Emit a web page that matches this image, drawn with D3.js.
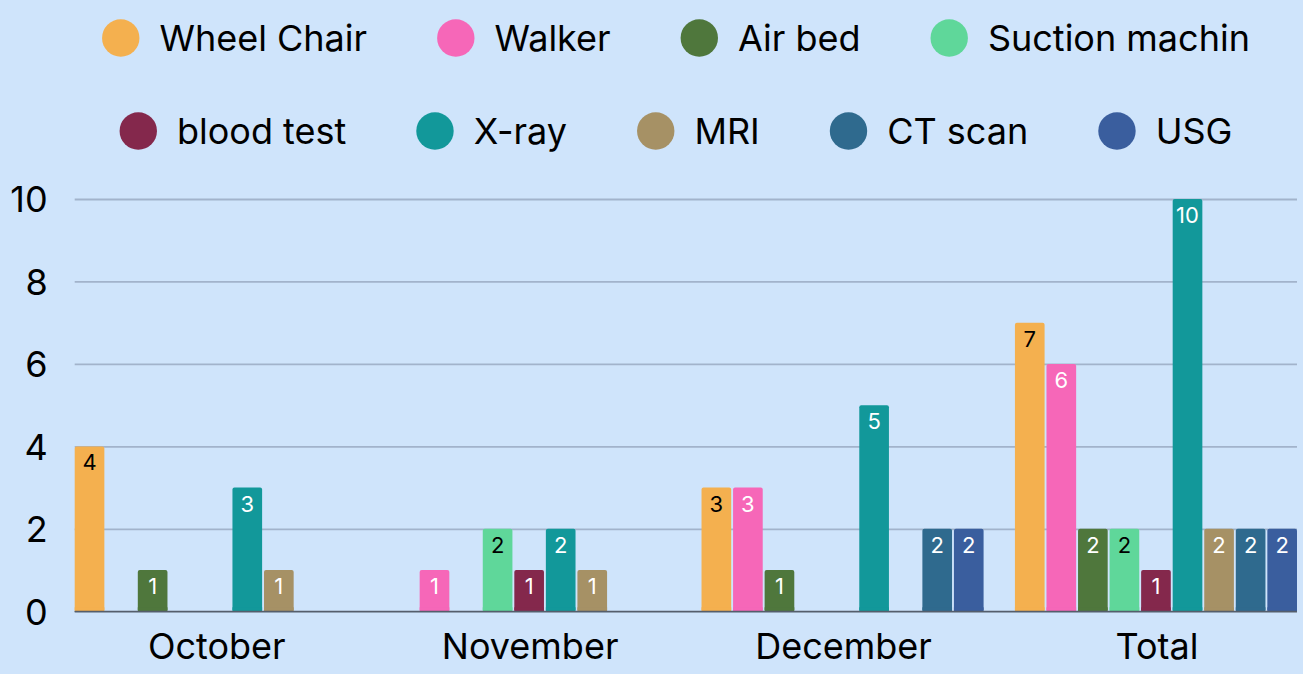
<!DOCTYPE html>
<html>
<head>
<meta charset="utf-8">
<script src="https://cdn.jsdelivr.net/npm/d3@7"></script>
<style>
  html, body { margin: 0; padding: 0; background: #cfe4fb; }
  svg { display: block; font-family: Inter, Roboto, "Noto Sans", sans-serif; }
</style>
</head>
<body>
<div id="chart"></div>
<script>
// Data
const months = ["October", "November", "December", "Total"];
const series = ["Wheel Chair", "Walker", "Air bed", "Suction machin", "blood test", "X-ray", "MRI", "CT scan", "USG"];
const colors = ["#f4b04f", "#f667b8", "#4f773c", "#5fd79a", "#84284c", "#12989a", "#a69165", "#2f6a8e", "#3a5e9e"];
const darkLabel = ["Wheel Chair", "Suction machin"];   // these get black value labels

const octoberValues  = [4, 0, 1, 0, 0, 3, 1, 0, 0];
const novemberValues = [0, 1, 0, 2, 1, 2, 1, 0, 0];
const decemberValues = [3, 3, 1, 0, 0, 5, 0, 2, 2];
const totalValues    = [7, 6, 2, 2, 1, 10, 2, 2, 2];
const yTicks = [0, 2, 4, 6, 8, 10];

const valuesByMonth = [octoberValues, novemberValues, decemberValues, totalValues];

const W = 1303, H = 674;
const plot = { left: 74.7, right: 1297, top: 199, bottom: 611.3 };
const font = "Inter, Roboto, sans-serif";

const svg = d3.select("#chart")
    .append("svg")
    .attr("width", W)
    .attr("height", H);

svg.append("rect").attr("width", W).attr("height", H).attr("fill", "#cfe4fb");

// Scales
const x0 = d3.scaleBand()
    .domain(months)
    .range([plot.left, plot.right])
    .paddingInner(0.1)
    .paddingOuter(0);

const x1 = d3.scaleBand()
    .domain(series)
    .range([0, x0.bandwidth()])
    .paddingInner(0.06);

const y = d3.scaleLinear()
    .domain([0, 10])
    .range([plot.bottom, plot.top]);

const color = d3.scaleOrdinal().domain(series).range(colors);

// Gridlines + y labels
const yAxis = svg.append("g")
    .attr("transform", `translate(${plot.left},0)`)
    .call(d3.axisLeft(y).tickValues(yTicks).tickSize(-(plot.right - plot.left)).tickPadding(27));

yAxis.select(".domain").remove();
yAxis.selectAll(".tick line")
    .attr("stroke", d => d === 0 ? "#555e6c" : "#a2b3cb")
    .attr("stroke-width", d => d === 0 ? 1.6 : 1.8);
yAxis.selectAll(".tick text")
    .attr("fill", "#000")
    .attr("font-size", 36)
    .attr("font-family", font)
    .attr("dy", "0.36em");

// Bars
const groups = svg.append("g")
    .selectAll("g")
    .data(months)
    .join("g")
    .attr("transform", d => `translate(${x0(d)},0)`);

const cells = groups.selectAll("g")
    .data((m, i) => series.map((s, j) => ({ series: s, value: valuesByMonth[i][j] })).filter(d => d.value > 0))
    .join("g");

cells.append("rect")
    .attr("x", d => x1(d.series))
    .attr("y", d => y(d.value))
    .attr("width", x1.bandwidth())
    .attr("height", d => y(0) - y(d.value))
    .attr("rx", 2)
    .attr("fill", d => color(d.series));

// keep the bottom corners square
cells.append("rect")
    .attr("x", d => x1(d.series))
    .attr("y", d => y(0) - 4)
    .attr("width", x1.bandwidth())
    .attr("height", 4)
    .attr("fill", d => color(d.series));

cells.append("text")
    .attr("x", d => x1(d.series) + x1.bandwidth() / 2)
    .attr("y", d => y(d.value) + 24)
    .attr("text-anchor", "middle")
    .attr("font-size", 22)
    .attr("fill", d => darkLabel.includes(d.series) ? "#000" : "#fff")
    .text(d => d.value);

// redraw zero line on top of bars
svg.append("line")
    .attr("x1", plot.left).attr("x2", plot.right)
    .attr("y1", y(0)).attr("y2", y(0))
    .attr("stroke", "#555e6c").attr("stroke-width", 1.2);

// Month labels
svg.append("g")
    .selectAll("text")
    .data(months)
    .join("text")
    .attr("x", d => x0(d) + x0.bandwidth() / 2 + 1)
    .attr("y", 659)
    .attr("text-anchor", "middle")
    .attr("font-size", 36)
    .attr("fill", "#000")
    .text(d => d);

// Legend, two centred rows
const legendRows = [series.slice(0, 4), series.slice(4)];
const rowY = [38, 131];
const r = 18.7, textGap = 20, itemGap = 70, legendCenter = 676;

legendRows.forEach((row, ri) => {
    const g = svg.append("g");
    const items = g.selectAll("g")
        .data(row)
        .join("g");
    items.append("circle")
        .attr("r", r)
        .attr("cy", rowY[ri])
        .attr("fill", d => color(d));
    items.append("text")
        .attr("y", rowY[ri] + 12.5)
        .attr("font-size", 36)
        .attr("fill", "#000")
        .text(d => d);

    const widths = [];
    items.select("text").each(function () { widths.push(this.getComputedTextLength()); });
    const itemWidths = widths.map(w => 2 * r + textGap + w);
    const total = d3.sum(itemWidths) + itemGap * (row.length - 1);
    let cx = legendCenter - total / 2;
    items.each(function (d, i) {
        d3.select(this).select("circle").attr("cx", cx + r);
        d3.select(this).select("text").attr("x", cx + 2 * r + textGap);
        cx += itemWidths[i] + itemGap;
    });
});
</script>
</body>
</html>
